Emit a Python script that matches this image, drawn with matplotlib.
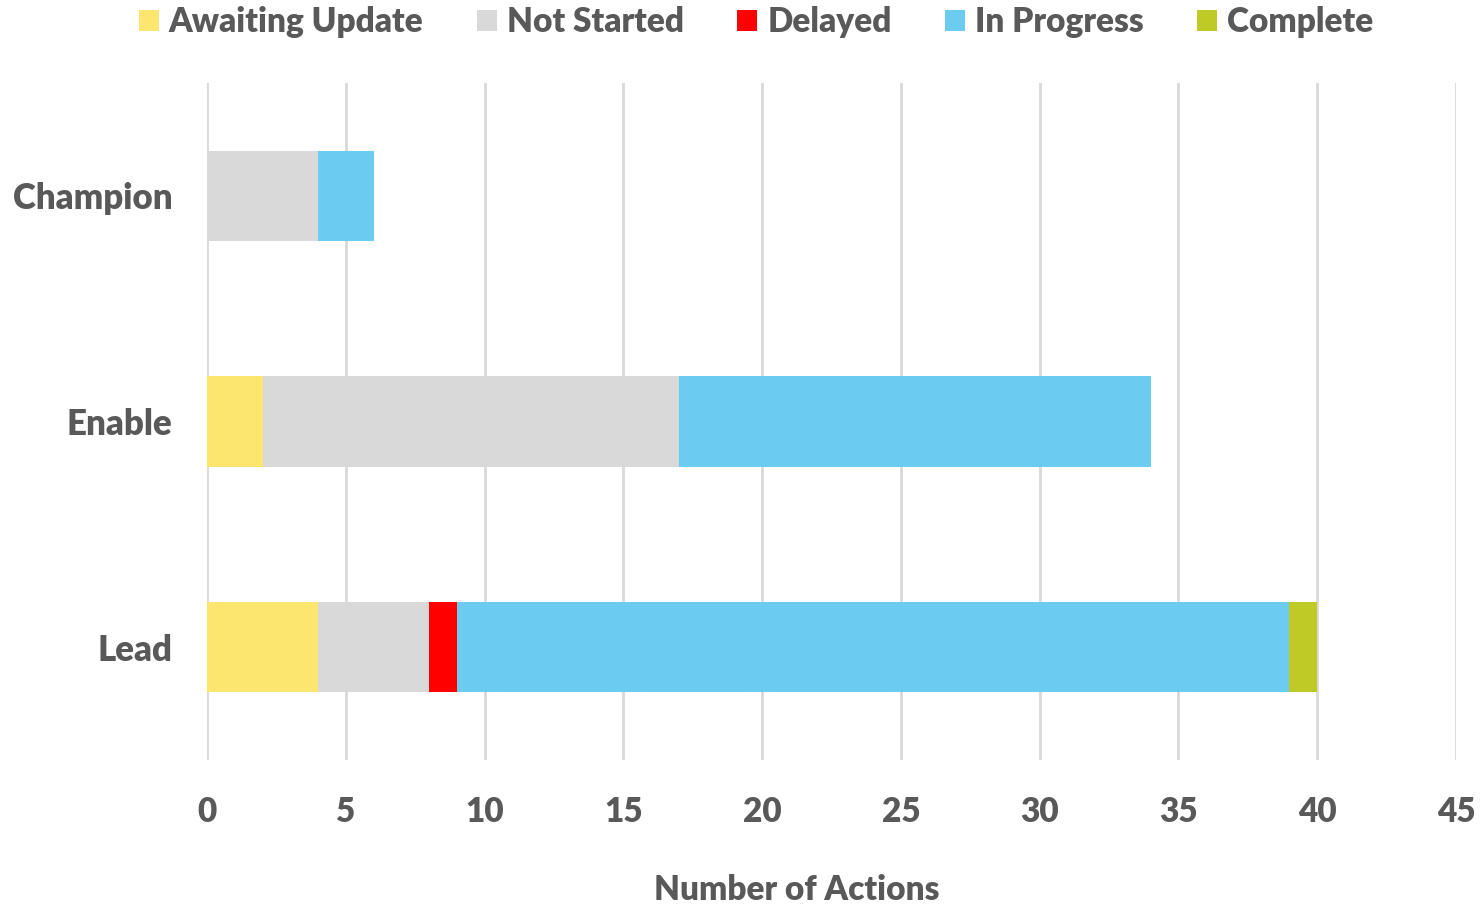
import matplotlib
matplotlib.use("Agg")
import matplotlib.pyplot as plt
import numpy as np

categories = ["Lead", "Enable", "Champion"]
series_names = ["Awaiting Update", "Not Started", "Delayed", "In Progress", "Complete"]
awaiting_update = [4, 2, 0]
not_started = [4, 15, 4]
delayed = [1, 0, 0]
in_progress = [30, 17, 2]
complete = [1, 0, 0]
colors = ["#FCE670", "#D9D9D9", "#FF0000", "#6BCBF0", "#BFCA27"]
x_ticks = [0, 5, 10, 15, 20, 25, 30, 35, 40, 45]

plt.rcParams['font.family'] = ['Lato', 'DejaVu Sans']
text_color = "#595959"
W = 800

fig = plt.figure(figsize=(14.81, 9.08), dpi=100)
ax = fig.add_axes([207/1481, 1-760/908, (1456-207)/1481, (760-83)/908])

y = np.arange(len(categories))
left = np.zeros(len(categories))
handles = []
for name, vals, c in zip(series_names,
                         [awaiting_update, not_started, delayed, in_progress, complete],
                         colors):
    vals = np.array(vals, dtype=float)
    h = ax.barh(y, vals, left=left, height=0.4, color=c, label=name, zorder=3)
    handles.append(h)
    left += vals

ax.set_xlim(0, 45)
ax.set_ylim(-0.5, 2.5)
ax.set_xticks(x_ticks)
ax.set_yticks(y)
ax.set_yticklabels(categories)
ax.grid(axis='x', color='#D9D9D9', linewidth=2, zorder=0)
for s in ax.spines.values():
    s.set_visible(False)
ax.tick_params(axis='both', length=0, labelcolor=text_color)
ax.tick_params(axis='x', pad=26, labelsize=24)
ax.tick_params(axis='y', pad=25, labelsize=25)
for lab in ax.get_xticklabels() + ax.get_yticklabels():
    lab.set_fontweight(W)

fig.text(797/1481, 1-890/908, "Number of Actions", ha='center', va='center',
         fontsize=24, fontweight=W, color=text_color)

leg = fig.legend(handles=handles, labels=series_names, loc='center',
                 bbox_to_anchor=(756/1481, 1-22/908), ncol=5, frameon=False,
                 fontsize=24, handlelength=0.6, handleheight=0.6, handletextpad=0.3,
                 columnspacing=1.6, borderaxespad=0)
for t in leg.get_texts():
    t.set_color(text_color)
    t.set_fontweight(W)

fig.savefig("out.png", dpi=100)
